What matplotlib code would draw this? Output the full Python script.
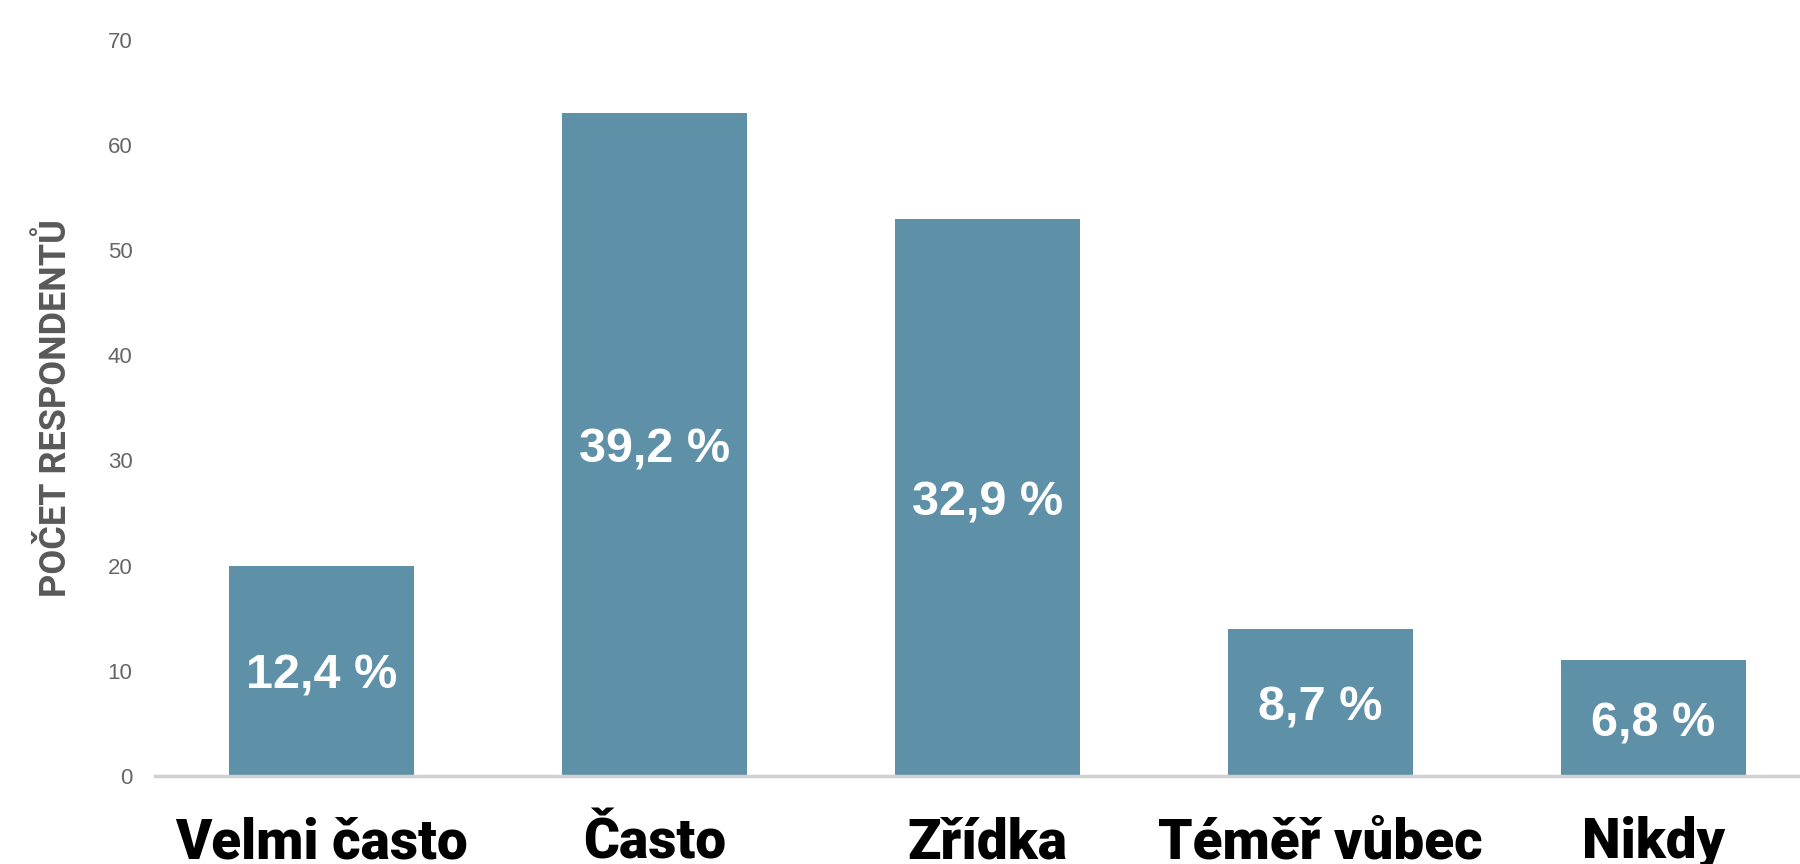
import matplotlib.pyplot as plt

# Survey answers: number of respondents per category
categories = ['Velmi často', 'Často', 'Zřídka', 'Téměř vůbec', 'Nikdy']
counts = [20, 63, 53, 14, 11]
shares = ['12,4 %', '39,2 %', '32,9 %', '8,7 %', '6,8 %']
y_ticks = [0, 10, 20, 30, 40, 50, 60, 70]

bar_color = '#5e90a8'
tick_gray = '#666666'
label_gray = '#595959'

plt.rcParams['font.family'] = ['Roboto', 'DejaVu Sans']

fig = plt.figure(figsize=(18, 8.64), dpi=100)
ax = fig.add_axes([0.086, 0.102, 0.914, 0.852])

x = range(len(categories))
bars = ax.bar(x, counts, width=0.555, color=bar_color, zorder=2)

# percentage labels in the middle of each bar
for rect, label in zip(bars, shares):
    ax.annotate(label, (rect.get_x() + rect.get_width() / 2, rect.get_height() / 2),
                xytext=(0, -4), textcoords='offset points',
                ha='center', va='center', color='white', fontsize=35, fontweight='bold',
                family=['Liberation Sans', 'DejaVu Sans'])

ax.set_xlim(-0.5, 4.44)
ax.set_ylim(0, 70)
ax.set_yticks(y_ticks)
ax.set_yticklabels([str(t) for t in y_ticks], fontsize=16, color=tick_gray,
                   family=['Liberation Sans', 'DejaVu Sans'])
ax.set_xticks(list(x))
ax.set_xticklabels(categories, fontsize=39.5, fontweight='black', color='black')
ax.tick_params(axis='y', length=0, pad=16)
ax.tick_params(axis='x', length=0, pad=29)

for side in ['top', 'right', 'left']:
    ax.spines[side].set_visible(False)
ax.spines['bottom'].set_color('#d0d0d0')
ax.spines['bottom'].set_linewidth(2.5)

ax.set_ylabel('POČET RESPONDENTŮ', fontsize=26, fontweight='bold', color=label_gray, labelpad=24)

fig.savefig('out.png', dpi=100)
